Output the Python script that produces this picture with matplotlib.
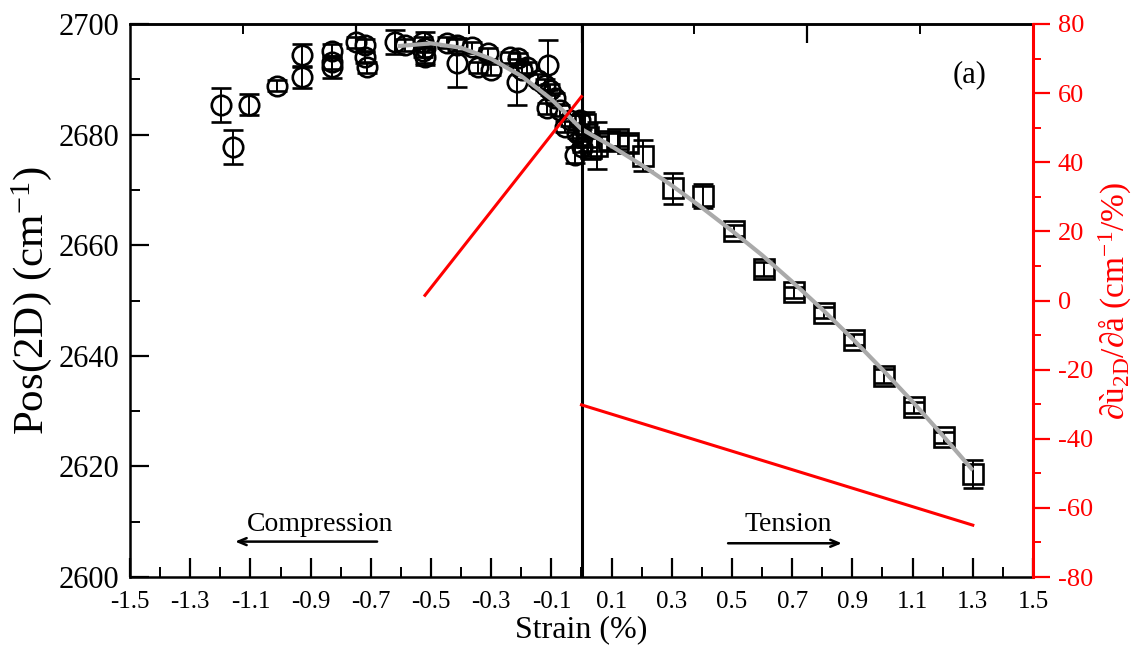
import matplotlib
matplotlib.use("Agg")
import matplotlib.pyplot as plt
import numpy as np
from matplotlib.ticker import FixedLocator, NullFormatter

plt.rcParams['font.family'] = ['Liberation Serif', 'DejaVu Serif']
plt.rcParams['mathtext.fontset'] = 'custom'
plt.rcParams['mathtext.rm'] = 'Liberation Serif'
plt.rcParams['mathtext.it'] = 'Liberation Serif:italic'
plt.rcParams['axes.unicode_minus'] = False

# ---- compression side: circles (strain %, Pos(2D) cm^-1, error) ----
comp_strain = [-1.198, -1.158, -1.105, -1.012, -0.929, -0.929, -0.83, -0.83, -0.83,
               -0.75, -0.72, -0.72, -0.712, -0.62, -0.586, -0.527, -0.527, -0.52,
               -0.52, -0.447, -0.414, -0.414, -0.365, -0.344, -0.31, -0.30, -0.238,
               -0.21, -0.214, -0.197, -0.18, -0.144, -0.12, -0.11, -0.105, -0.088,
               -0.115, -0.071, -0.055, -0.038, -0.015, -0.022, -0.005, 0.0, 0.002]
comp_pos = [2685.4, 2677.8, 2685.4, 2688.8, 2694.4, 2690.4, 2695.1, 2693.1, 2692.2,
            2696.7, 2696.2, 2694.0, 2692.2, 2696.7, 2696.2, 2695.1, 2696.7, 2695.6,
            2694.0, 2696.6, 2696.2, 2693.0, 2695.8, 2692.2, 2694.7, 2691.7, 2694.0,
            2693.8, 2689.5, 2691.7, 2692.2, 2689.9, 2689.0, 2692.6, 2688.1, 2686.6,
            2684.8, 2684.4, 2681.4, 2682.6, 2680.3, 2676.3, 2682.6, 2679.6, 2677.8]
comp_err = [3.1, 3.1, 1.9, 1.0, 2.0, 1.9, 1.2, 1.2, 2.0,
            1.0, 1.0, 1.0, 1.0, 2.2, 1.0, 1.0, 1.0, 3.0,
            1.0, 1.0, 1.0, 4.4, 1.0, 1.0, 1.0, 1.0, 1.0,
            1.0, 4.2, 1.0, 1.0, 1.0, 1.0, 4.5, 1.0, 1.0,
            1.0, 1.0, 1.0, 1.0, 1.0, 1.5, 1.0, 1.5, 1.0]

# ---- tension side: squares ----
tens_strain = [0.01, 0.02, 0.03, 0.05, 0.09, 0.12, 0.155, 0.205, 0.305, 0.405,
               0.505, 0.605, 0.705, 0.805, 0.905, 1.005, 1.105, 1.205, 1.30]
tens_pos = [2682.0, 2679.5, 2677.5, 2678.0, 2678.8, 2679.2, 2678.4, 2676.2, 2670.3, 2668.9,
            2662.6, 2655.7, 2651.5, 2647.8, 2642.9, 2636.3, 2630.7, 2625.3, 2618.6]
tens_err = [2.0, 2.5, 2.0, 4.3, 1.5, 1.2, 1.5, 2.8, 2.8, 2.2,
            1.0, 1.2, 1.0, 1.0, 1.0, 1.3, 1.0, 1.0, 2.5]

# ---- fitted curve through both regimes ----
fit_strain = [-0.61, -0.5, -0.4, -0.3, -0.2, -0.1, 0.0, 0.1, 0.2, 0.3, 0.4, 0.5,
              0.6, 0.7, 0.8, 0.9, 1.0, 1.1, 1.2, 1.3]
fit_pos = [2696.0, 2696.5, 2695.7, 2693.7, 2690.6, 2686.4, 2681.0, 2677.9, 2674.5,
           2670.8, 2666.8, 2662.6, 2658.2, 2653.4, 2648.4, 2643.1, 2637.5, 2631.7,
           2625.6, 2619.3]

# ---- slope d(omega_2D)/d(eps), right axis ----
slope_comp_strain = [-0.52, 0.0]
slope_comp_val = [1.5, 59.0]
slope_tens_strain = [0.0, 1.3]
slope_tens_val = [-30.2, -65.0]

x_major = [-1.5, -1.3, -1.1, -0.9, -0.7, -0.5, -0.3, -0.1, 0.1, 0.3, 0.5, 0.7, 0.9, 1.1, 1.3, 1.5]
x_labels = ['-1.5', '-1.3', '-1.1', '-0.9', '-0.7', '-0.5', '-0.3', '-0.1',
            '0.1', '0.3', '0.5', '0.7', '0.9', '1.1', '1.3', '1.5']

W, H = 1135, 657
fig = plt.figure(figsize=(W / 100, H / 100), dpi=100)
ax = fig.add_axes([130 / W, 1 - 577 / H, 903 / W, 553 / H])

ax.errorbar(comp_strain, comp_pos, yerr=comp_err, fmt='o', ms=14, mfc='none',
            mec='black', mew=1.9, ecolor='black', elinewidth=1.4, capsize=7,
            capthick=1.4, zorder=3)
ax.errorbar(tens_strain, tens_pos, yerr=tens_err, fmt='s', ms=14, mfc='none',
            mec='black', mew=1.9, ecolor='black', elinewidth=1.4, capsize=7,
            capthick=1.4, zorder=3)
ax.plot(fit_strain, fit_pos, color='#aaaaaa', lw=3, zorder=4,
        solid_capstyle='butt')
ax.axvline(0.0, color='black', lw=2.2, zorder=5)

ax.set_xlim(-1.5, 1.5)
ax.set_ylim(2600, 2700)
ax.xaxis.set_major_locator(FixedLocator(x_major))
ax.set_xticklabels(x_labels)
ax.xaxis.set_minor_locator(FixedLocator(np.arange(-1.4, 1.45, 0.2)))
ax.yaxis.set_major_locator(FixedLocator(np.arange(2600, 2701, 20)))
ax.yaxis.set_minor_locator(FixedLocator(np.arange(2610, 2700, 20)))
ax.tick_params(axis='both', which='major', direction='in', length=14, width=1.6,
               top=False, right=False)
ax.tick_params(axis='both', which='minor', direction='in', length=7, width=1.4,
               top=False, right=False)
ax.tick_params(axis='x', labelsize=18, pad=10)
ax.tick_params(axis='y', labelsize=22, pad=8)
for s in ['left', 'top', 'bottom']:
    ax.spines[s].set_linewidth(1.8)
ax.spines['right'].set_visible(False)

ax.set_xlabel('Strain (%)', fontsize=23, labelpad=2)
ax.set_ylabel('Pos(2D) (cm$^{\\mathrm{-1}}$)', fontsize=31)
ax.yaxis.set_label_coords(-0.109, 0.5)
ax.yaxis.label.set_va('center')

# top axis ticks on a separate scale
sec = ax.secondary_xaxis('top', functions=(lambda x: x * 8 / 3, lambda x: x * 3 / 8))
sec.set_xticks([-2, 0, 2])
sec.set_xticks([-3, -1, 1, 3], minor=True)
sec.xaxis.set_major_formatter(NullFormatter())
sec.tick_params(which='major', direction='in', length=14, width=1.6)
sec.tick_params(which='minor', direction='in', length=7, width=1.4)
sec.spines['top'].set_linewidth(1.8)

# red slope axis
axr = ax.twinx()
axr.plot(slope_comp_strain, slope_comp_val, color='red', lw=2.2)
axr.plot(slope_tens_strain, slope_tens_val, color='red', lw=2.2)
axr.set_ylim(-80, 80)
axr.yaxis.set_major_locator(FixedLocator(np.arange(-80, 81, 20)))
axr.yaxis.set_minor_locator(FixedLocator(np.arange(-70, 80, 20)))
axr.tick_params(axis='y', which='major', direction='out', length=12, width=1.6,
                colors='red', labelsize=19, pad=6)
axr.tick_params(axis='y', which='minor', direction='out', length=6, width=1.4,
                colors='red')
for s in ['left', 'top', 'bottom']:
    axr.spines[s].set_visible(False)
axr.spines['right'].set_color('red')
axr.spines['right'].set_linewidth(2.2)
axr.set_ylabel('∂ù$_{\\mathrm{2D}}$/∂å (cm$^{\\mathrm{-1}}$/%)', color='red',
               fontsize=24)
axr.yaxis.set_label_coords(1.091, 0.5)
axr.yaxis.label.set_va('center')

# annotations
ax.text(1.29, 2690.8, '(a)', fontsize=22, ha='center', va='center', zorder=6)
ax.text(-0.87, 2609.5, 'Compression', fontsize=20, ha='center', va='center')
ax.annotate('', xy=(-1.151, 2606.4), xytext=(-0.679, 2606.4),
            arrowprops=dict(arrowstyle='->,head_length=0.6,head_width=0.25',
                            color='black', lw=1.8, shrinkA=0, shrinkB=0))
ax.text(0.686, 2609.5, 'Tension', fontsize=20, ha='center', va='center')
ax.annotate('', xy=(0.865, 2606.1), xytext=(0.487, 2606.1),
            arrowprops=dict(arrowstyle='->,head_length=0.6,head_width=0.25',
                            color='black', lw=1.8, shrinkA=0, shrinkB=0))

fig.savefig('out.png', dpi=100)
